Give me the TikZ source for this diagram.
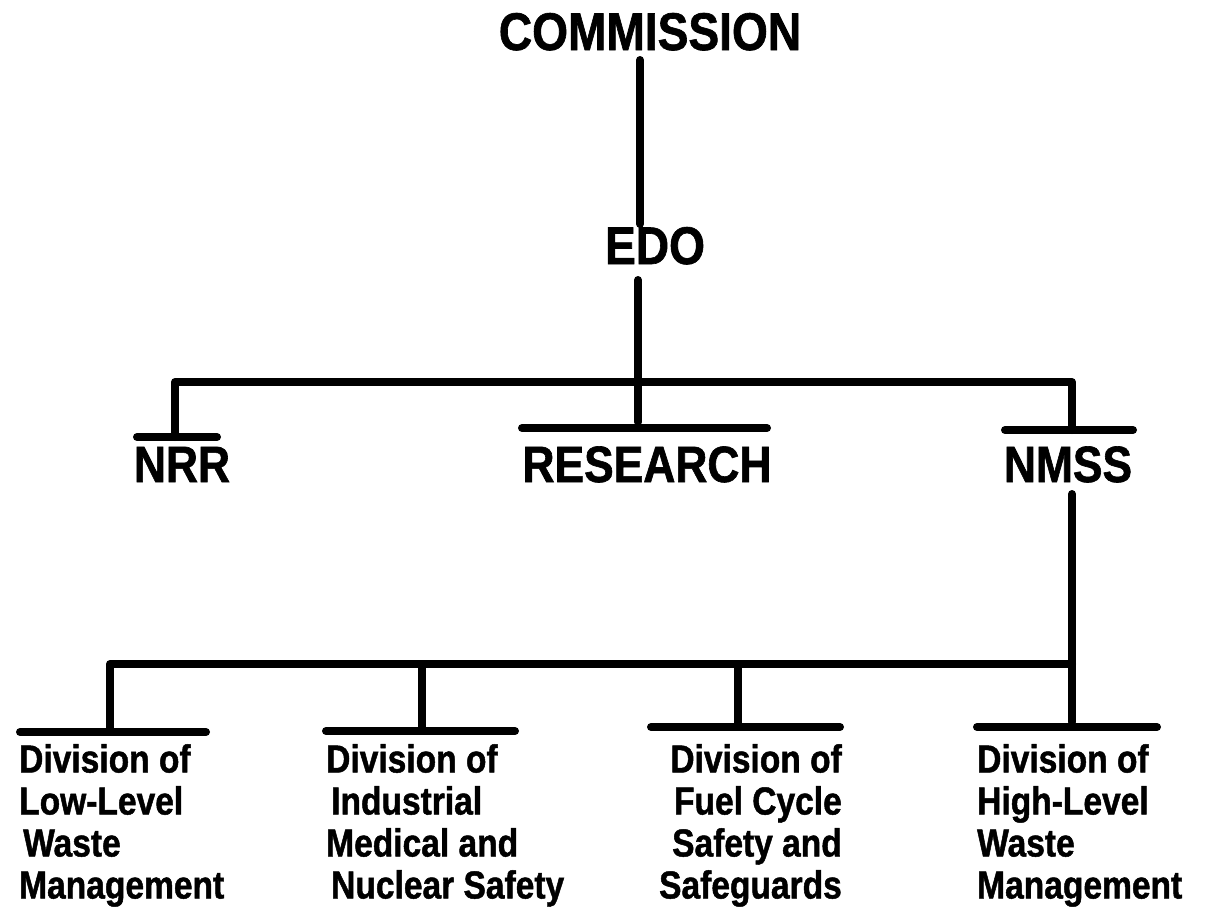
\documentclass[tikz,border=0pt]{standalone}
\usepackage{fontspec}
\newfontfamily\topfont{Liberation Sans}[UprightFont={* Bold}, FakeStretch=0.87, FakeBold=1.2]
\newfontfamily\lowfont{Liberation Sans}[UprightFont={* Bold}, FakeStretch=0.86, FakeBold=1.2]
\begin{document}
\begin{tikzpicture}[x=1pt,y=-1pt,
  wire/.style={line width=8pt, line cap=round, line join=round},
  toplabel/.style={inner sep=0pt, anchor=base, font=\topfont\fontsize{53}{56}\selectfont},
  midlabel/.style={inner sep=0pt, anchor=base, font=\topfont\fontsize{51}{56}\selectfont},
  divlabel/.style={inner sep=0pt, font=\lowfont\fontsize{39}{42}\selectfont}
]
\useasboundingbox (0,0) rectangle (1212,914);

% labels
\node[toplabel] (comm) at (650,50) {COMMISSION};
\node[toplabel] (edo) at (655,264) {EDO};
\node[midlabel] (nrr) at (182,482) {NRR};
\node[midlabel] (res) at (647,482) {RESEARCH};
\node[midlabel] (nmss) at (1068,482) {NMSS};

\node[divlabel, anchor=north west, align=left] (d1) at (19,744)
  {Division of\\Low-Level\\\hspace{4pt}Waste\\Management};
\node[divlabel, anchor=north west, align=left] (d2) at (326,744)
  {Division of\\\hspace{5pt}Industrial\\Medical and\\\hspace{5pt}Nuclear Safety};
\node[divlabel, anchor=north east, align=right] (d3) at (842,744)
  {Division of\\Fuel Cycle\\Safety and\\Safeguards};
\node[divlabel, anchor=north west, align=left] (d4) at (977,744)
  {Division of\\High-Level\\Waste\\Management};

% coordinates
\coordinate (commB) at (640,60);
\coordinate (edoT) at (640,224);
\coordinate (edoB) at (638,280);
\coordinate (resT) at (638,422);
\coordinate (bus1L) at (175,382);
\coordinate (bus1R) at (1072,382);
\coordinate (nrrBarL) at (137,437);
\coordinate (nrrBarR) at (217,437);
\coordinate (nrrT) at (175,437);
\coordinate (resBarL) at (522,428);
\coordinate (resBarR) at (767,428);
\coordinate (nmssBarL) at (1005,430);
\coordinate (nmssBarR) at (1133,430);
\coordinate (nmssT) at (1072,430);
\coordinate (nmssB) at (1072,494);
\coordinate (bus2L) at (110,664);
\coordinate (bus2R) at (1072,664);
\coordinate (d1T) at (110,730);
\coordinate (d2T) at (422,730);
\coordinate (d3T) at (738,726);
\coordinate (d4T) at (1072,722);
\coordinate (d1BarL) at (20,732);
\coordinate (d1BarR) at (206,732);
\coordinate (d2BarL) at (326,731);
\coordinate (d2BarR) at (515,731);
\coordinate (d3BarL) at (651,727);
\coordinate (d3BarR) at (840,727);
\coordinate (d4BarL) at (977,727);
\coordinate (d4BarR) at (1157,727);
\coordinate (c2) at (422,664);
\coordinate (c3) at (738,664);

% connectors
\draw[wire] (commB) -- (edoT);
\draw[wire] (edoB) -- (resT);
\draw[wire] (nrrT) -- (bus1L) -- (bus1R) -- (nmssT);
\draw[wire] (nrrBarL) -- (nrrBarR);
\draw[wire] (resBarL) -- (resBarR);
\draw[wire] (nmssBarL) -- (nmssBarR);
\draw[wire] (nmssB) -- (d4T);
\draw[wire] (d1T) -- (bus2L) -- (bus2R);
\draw[wire] (c2) -- (d2T);
\draw[wire] (c3) -- (d3T);
\draw[wire] (d1BarL) -- (d1BarR);
\draw[wire] (d2BarL) -- (d2BarR);
\draw[wire] (d3BarL) -- (d3BarR);
\draw[wire] (d4BarL) -- (d4BarR);
\end{tikzpicture}
\end{document}
